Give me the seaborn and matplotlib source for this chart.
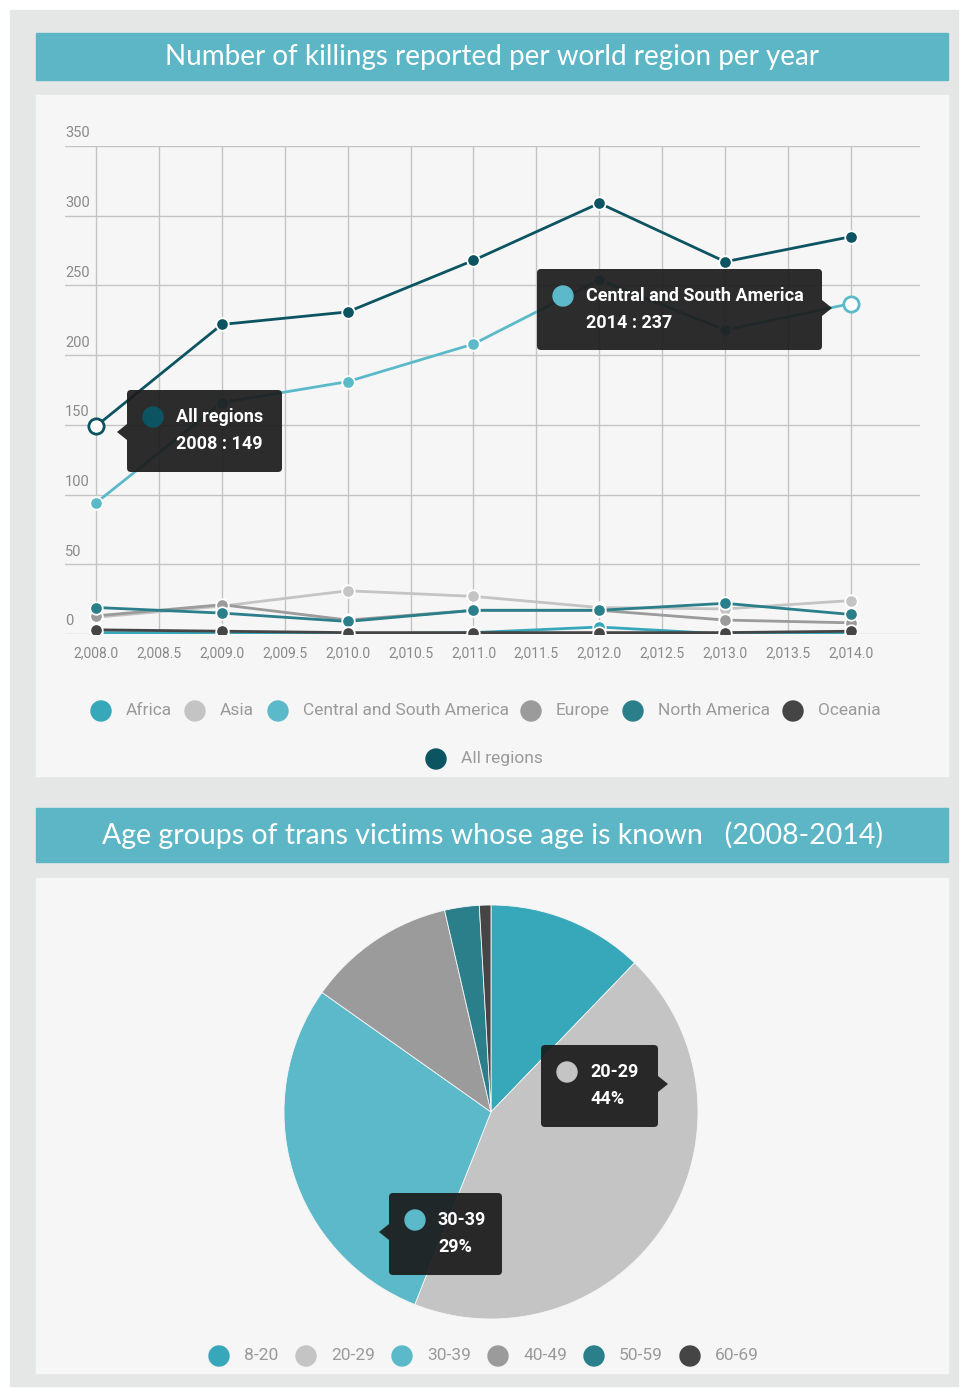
import numpy as np
import pandas as pd
import matplotlib
matplotlib.use("Agg")
import matplotlib.pyplot as plt
import seaborn as sns
from matplotlib.patches import Rectangle, FancyBboxPatch, Circle, Polygon

# ---------------- data ----------------
years = [2008, 2009, 2010, 2011, 2012, 2013, 2014]
africa = [1, 1, 0, 1, 5, 0, 1]
asia = [12, 20, 31, 27, 19, 18, 24]
central_south_america = [94, 166, 181, 208, 254, 218, 237]
europe = [13, 21, 10, 17, 17, 10, 8]
north_america = [19, 15, 9, 17, 17, 22, 14]
oceania = [3, 2, 1, 1, 1, 1, 2]
all_regions = [149, 222, 231, 268, 309, 267, 285]

regions = ["Africa", "Asia", "Central and South America", "Europe",
           "North America", "Oceania", "All regions"]
region_colors = ["#37a7ba", "#c4c4c4", "#5cb9c9", "#9b9b9b",
                 "#2b7f8b", "#454545", "#0c5462"]

age_groups = ["8-20", "20-29", "30-39", "40-49", "50-59", "60-69"]
age_shares = [12.2, 43.8, 28.8, 11.6, 2.7, 0.9]
age_colors = ["#37a7ba", "#c4c4c4", "#5cb9c9", "#9b9b9b", "#2b7f8b", "#454545"]

title1 = "Number of killings reported per world region per year"
title2 = "Age groups of trans victims whose age is known   (2008-2014)"

# ---------------- style ----------------
sns.set_theme(style="white")
plt.rcParams["font.family"] = ["Lato", "DejaVu Sans"]
COND = ["Roboto", "DejaVu Sans"]
TIP = ["Roboto", "DejaVu Sans"]
W, H = 960, 1388
fig = plt.figure(figsize=(W / 100, H / 100), dpi=100)
fig.patch.set_facecolor("white")

def pix_axes(zorder):
    a = fig.add_axes([0, 0, 1, 1], zorder=zorder)
    a.set_xlim(0, W)
    a.set_ylim(H, 0)
    a.axis("off")
    a.patch.set_alpha(0)
    return a

bg = pix_axes(-2)
bg.add_patch(Rectangle((10, 10), 948, 1376, color="#e5e7e7", zorder=0))
band_col = "#5db6c5"
panel_col = "#f6f6f6"
bg.add_patch(Rectangle((36, 33), 912, 47, color=band_col, zorder=1))
bg.add_patch(Rectangle((36, 95), 912, 681, color=panel_col, zorder=1))
bg.add_patch(Rectangle((36, 808), 912, 54, color=band_col, zorder=1))
bg.add_patch(Rectangle((36, 878), 912, 495, color=panel_col, zorder=1))
bg.text(492, 57, title1, color="white", fontsize=20, fontweight="normal",
        ha="center", va="center", zorder=2)
bg.text(492, 835, title2, color="white", fontsize=20.5, fontweight="normal",
        ha="center", va="center", zorder=2)

# ---------------- line chart ----------------
series = [africa, asia, central_south_america, europe, north_america, oceania, all_regions]
df = pd.DataFrame({
    "year": np.tile(years, len(regions)),
    "value": np.concatenate(series),
    "region": np.repeat(regions, len(years)),
})
palette = dict(zip(regions, region_colors))

ax = fig.add_axes([65 / W, 1 - 634 / H, (920 - 65) / W, (634 - 146) / H], zorder=1)
ax.patch.set_alpha(0)
sns.lineplot(data=df, x="year", y="value", hue="region", hue_order=regions,
             palette=palette, marker="o", markersize=9, markeredgecolor="white",
             markeredgewidth=1.3, linewidth=2, legend=False, ax=ax, zorder=3)
XL = (2007.754, 2014.548)
ax.set_xlim(*XL)
ax.set_ylim(0, 350)
xt = np.arange(2008, 2014.01, 0.5)
ax.set_xticks(xt)
ax.set_xticklabels([f"{v:,.1f}" for v in xt], fontfamily=COND, fontsize=10, color="#8a8a8a")
ax.set_yticks(np.arange(0, 351, 50))
ax.set_yticklabels([])
ax.tick_params(axis="both", length=0)
ax.tick_params(axis="x", pad=9)
ax.grid(True, color="#c4c4c4", linewidth=1)
for s in ax.spines.values():
    s.set_visible(False)
ax.set_xlabel("")
ax.set_ylabel("")
for v in np.arange(0, 351, 50):
    ax.annotate(str(v), (XL[0], v), xytext=(0, 4), textcoords="offset points",
                ha="left", va="bottom", fontfamily=COND, fontsize=10.5, color="#8a8a8a")
# highlighted points
ax.plot(years[0], all_regions[0], marker="o", ms=11, mfc="white",
        mec=palette["All regions"], mew=2, zorder=6, clip_on=False)
ax.plot(years[-1], central_south_america[-1], marker="o", ms=11, mfc="white",
        mec=palette["Central and South America"], mew=2, zorder=6, clip_on=False)

# ---------------- pie chart ----------------
cx, cy, r = 491, 1112, 207
ax2 = fig.add_axes([(cx - r) / W, 1 - (cy + r) / H, 2 * r / W, 2 * r / H], zorder=1)
ax2.pie(age_shares, colors=age_colors, startangle=90, counterclock=False,
        wedgeprops=dict(linewidth=0.6, edgecolor=panel_col))
ax2.set_xlim(-1, 1)
ax2.set_ylim(-1, 1)
ax2.set_aspect("equal")
ax2.axis("off")

# ---------------- overlay: tooltips & legends ----------------
ov = pix_axes(5)

def tooltip(x0, y0, w, h, pointer, dot_col, line1, line2):
    ov.add_patch(FancyBboxPatch((x0, y0), w, h, boxstyle="round,pad=0,rounding_size=4",
                                fc="#1c1c1c", ec="none", alpha=0.93, zorder=5))
    ov.add_patch(Polygon(pointer, closed=True, fc="#1c1c1c", ec="none", alpha=0.93, zorder=5))
    ov.add_patch(Circle((x0 + 26, y0 + 27), 10, color=dot_col, zorder=6))
    ov.text(x0 + 49, y0 + 27, line1, color="white", fontfamily=TIP, fontweight="bold",
            fontsize=13, ha="left", va="center", zorder=7)
    ov.text(x0 + 49, y0 + 54, line2, color="white", fontfamily=TIP, fontweight="bold",
            fontsize=13, ha="left", va="center", zorder=7)

tooltip(127, 390, 155, 82, [(127, 424), (117, 432), (127, 440)],
        palette["All regions"], "All regions", f"{years[0]} : {all_regions[0]}")
tooltip(537, 269, 285, 81, [(822, 300), (832, 308), (822, 316)],
        palette["Central and South America"], "Central and South America",
        f"{years[-1]} : {central_south_america[-1]}")
tooltip(541, 1045, 117, 82, [(658, 1076), (668, 1084), (658, 1092)],
        age_colors[1], age_groups[1], f"{round(age_shares[1])}%")
tooltip(389, 1193, 113, 82, [(389, 1224), (379, 1232), (389, 1240)],
        age_colors[2], age_groups[2], f"{round(age_shares[2])}%")

def legend_item(xc, y, col, label):
    ov.add_patch(Circle((xc, y), 10, color=col, zorder=4))
    ov.text(xc + 25, y - 1, label, color="#9a9a9a", fontfamily=COND, fontsize=12.5,
            ha="left", va="center", zorder=4)

leg1_x = [101, 195, 278, 531, 633, 793]
for xc, lab in zip(leg1_x, regions[:6]):
    legend_item(xc, 711, palette[lab], lab)
legend_item(436, 759, palette["All regions"], "All regions")

leg2_x = [219, 306, 402, 498, 594, 690]
for xc, lab, col in zip(leg2_x, age_groups, age_colors):
    legend_item(xc, 1356, col, lab)

fig.savefig("out.png", dpi=100, facecolor=fig.get_facecolor())
